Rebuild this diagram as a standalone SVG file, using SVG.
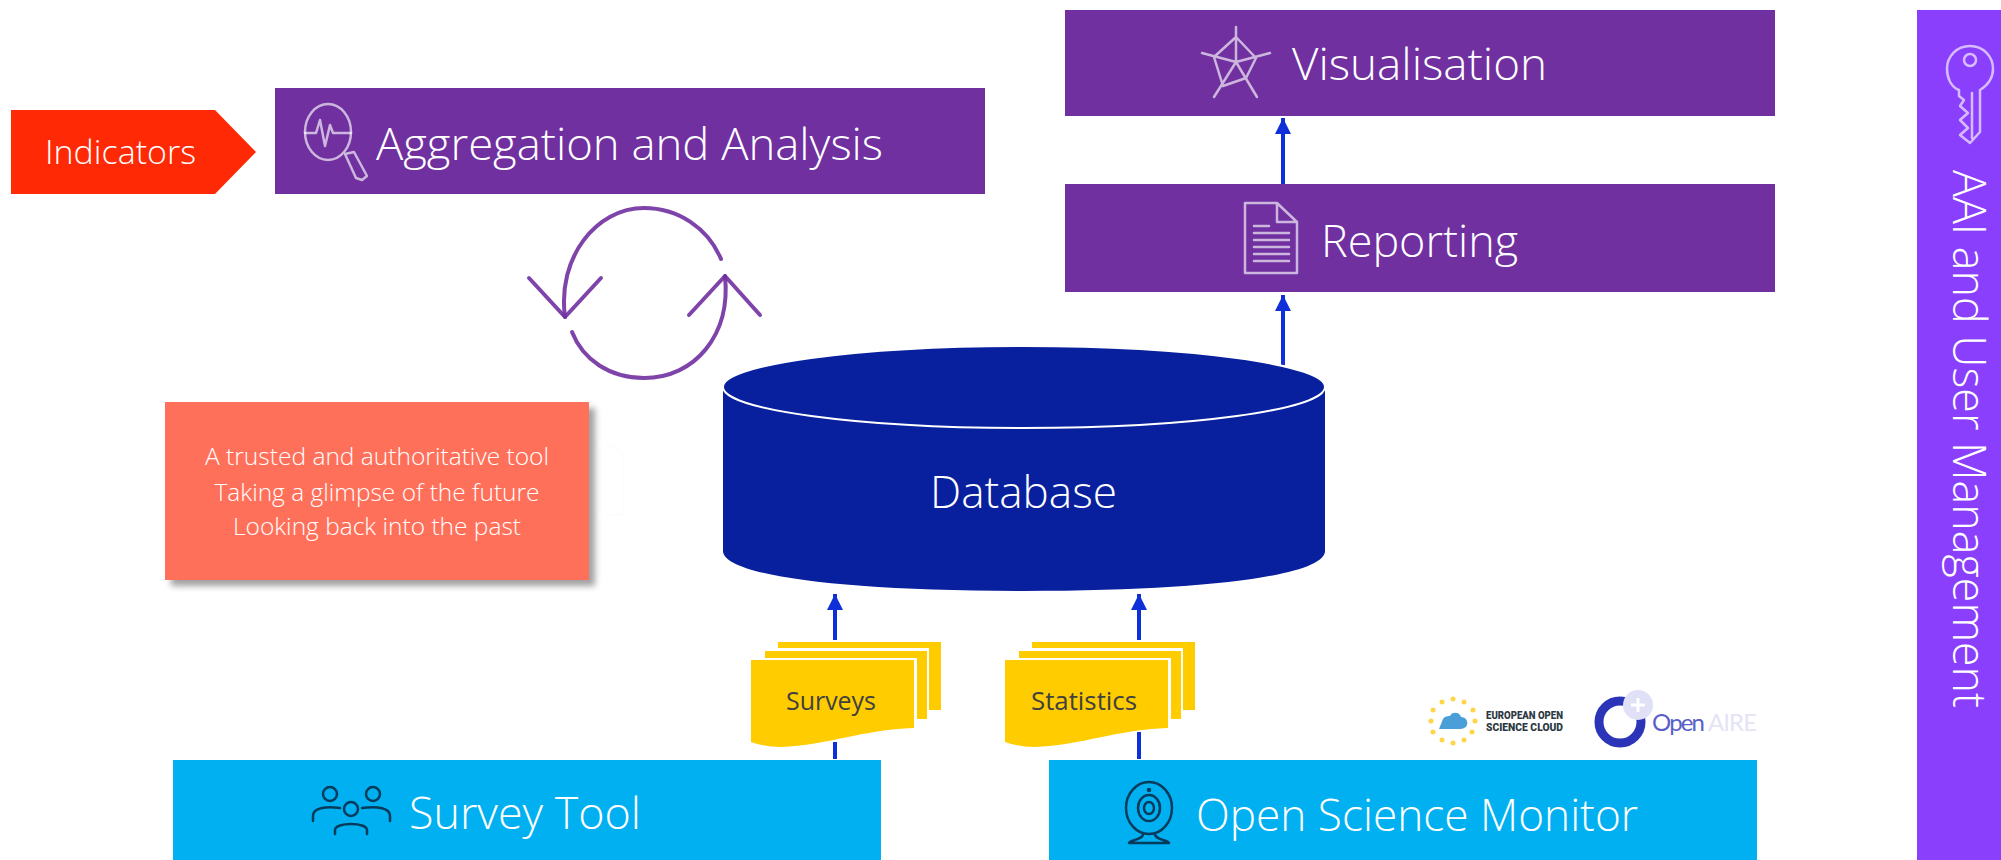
<svg xmlns="http://www.w3.org/2000/svg" width="2001" height="860" viewBox="0 0 2001 860">
<style>
.t{font-family:"Open Sans","Noto Sans","Liberation Sans",sans-serif;font-weight:300;fill:#fff}
.w{font-size:44px}.c{font-size:24px;text-anchor:middle;font-weight:300}
.d{font-family:"Open Sans","Noto Sans",sans-serif;font-size:26px;fill:#404040}
.p{fill:#7030a0}.b{fill:#00b0f0}.y{fill:#ffcc00}
.ic{fill:none;stroke:#fff;stroke-opacity:.65;stroke-width:2.5;stroke-linecap:round;stroke-linejoin:round}
.ik{fill:none;stroke:#073b5c;stroke-width:2.5;stroke-linecap:round;stroke-linejoin:round}
.cy{fill:none;stroke:#7030a0;stroke-width:4;stroke-linecap:round;stroke-linejoin:round;stroke-opacity:.9}
.cn{fill:none;stroke:#0f2fd8;stroke-width:4}
</style>
<defs>
<marker id="ah" markerUnits="userSpaceOnUse" markerWidth="16" markerHeight="17" refX="16" refY="8" orient="auto"><path d="M0 0L16 8L0 16Z" fill="#0f2fd8"/></marker>
<filter id="sh" x="-5%" y="-5%" width="115%" height="120%"><feGaussianBlur stdDeviation="3"/></filter>
</defs>
<rect width="2001" height="860" fill="#fff"/>

<g id="connectors">
<path class="cn" d="M1283 189V118" marker-end="url(#ah)"/>
<path class="cn" d="M1283 365V295" marker-end="url(#ah)"/>
<path class="cn" d="M835 759V742"/>
<path class="cn" d="M835 640V594" marker-end="url(#ah)"/>
<path class="cn" d="M1139 759V732"/>
<path class="cn" d="M1139 640V594" marker-end="url(#ah)"/>
</g>

<g id="indicators">
<path d="M11 110H215L256 152L215 194H11Z" fill="#ff2a05"/>
<text class="t" x="45" y="164" font-size="33" textLength="151" lengthAdjust="spacingAndGlyphs">Indicators</text>
</g>

<g id="aggregation">
<rect class="p" x="275" y="88" width="710" height="106"/>
<ellipse class="ic" cx="328" cy="132" rx="23" ry="28"/>
<path class="ic" d="M305 133H316L320 120L325 146L330 125L333 133H351"/>
<path class="ic" d="M345 154L354 152L367 176L362 180L356 178Z"/>
<text class="t w" x="376" y="160" textLength="507" lengthAdjust="spacingAndGlyphs">Aggregation and Analysis</text>
</g>

<g id="visualisation">
<rect class="p" x="1065" y="10" width="710" height="106"/>
<path class="ic" d="M1236 27V62M1202 53L1236 62L1270 53M1214 97L1236 62L1257 97M1236 37L1256 58L1246 78L1223 86L1214 57Z"/>
<text class="t w" x="1292" y="80" textLength="255" lengthAdjust="spacingAndGlyphs">Visualisation</text>
</g>

<g id="reporting">
<rect class="p" x="1065" y="184" width="710" height="108"/>
<path class="ic" d="M1245 203H1277L1297 222V273H1245ZM1277 203V222H1297"/>
<path class="ic" d="M1254 226H1269M1254 233H1289M1254 240H1289M1254 247H1289M1254 254H1289M1254 261H1289" stroke-width="3"/>
<text class="t w" x="1321" y="257" textLength="197" lengthAdjust="spacingAndGlyphs">Reporting</text>
</g>

<g id="cycle">
<path class="cy" d="M565 317C557 258 596 208 644 208C678 208 708 228 721 259"/>
<path class="cy" d="M529 278L565 317L601 278"/>
<path class="cy" d="M572 332C583 360 610 378 644 378C695 378 731 335 725 276"/>
<path class="cy" d="M689 315L725 276L760 315"/>
</g>

<g id="database">
<path d="M723 388V551C723 574 830 591 1024 591C1218 591 1325 574 1325 551V388Z" fill="#08209e"/>
<ellipse cx="1024" cy="387" rx="301" ry="41" fill="#08209e" stroke="#fff" stroke-width="2"/>
<text class="t" x="930" y="508" font-size="44" textLength="187" lengthAdjust="spacingAndGlyphs">Database</text>
</g>

<g id="callout">
<rect x="171" y="408" width="424" height="178" fill="#555" opacity=".55" filter="url(#sh)"/>
<rect x="165" y="402" width="424" height="178" fill="#ff705a"/>
<text class="t c" x="377" y="465" textLength="344" lengthAdjust="spacingAndGlyphs">A trusted and authoritative tool</text>
<text class="t c" x="377" y="501" textLength="325" lengthAdjust="spacingAndGlyphs">Taking a glimpse of the future</text>
<text class="t c" x="377" y="535" textLength="288" lengthAdjust="spacingAndGlyphs">Looking back into the past</text>
</g>

<g id="surveys">
<path class="y" d="M778 642H941V710H929V648H778Z"/>
<path class="y" d="M765 651H927V719H917V658H765Z"/>
<path class="y" d="M751 660H914V728C860 730 830 745 780 747C770 747 760 745 751 742Z"/>
<text class="d" x="786" y="710" textLength="90" lengthAdjust="spacingAndGlyphs">Surveys</text>
</g>

<g id="statistics">
<path class="y" d="M1032 642H1195V710H1183V648H1032Z"/>
<path class="y" d="M1019 651H1181V719H1171V658H1019Z"/>
<path class="y" d="M1005 660H1168V728C1114 730 1084 745 1034 747C1024 747 1014 745 1005 742Z"/>
<text class="d" x="1031" y="710" textLength="106" lengthAdjust="spacingAndGlyphs">Statistics</text>
</g>

<g id="survey-tool">
<rect class="b" x="173" y="760" width="708" height="100"/>
<g class="ik">
<circle cx="330" cy="794" r="7"/><circle cx="373" cy="794" r="7"/><circle cx="351" cy="809" r="7"/>
<path d="M313 821V816C313 808 325 806 340 808M390 821V816C390 808 378 806 362 808M335 834V830C335 822 367 822 367 830V834"/>
</g>
<text class="t w" x="409" y="829" textLength="232" lengthAdjust="spacingAndGlyphs">Survey Tool</text>
</g>

<g id="open-science-monitor">
<rect class="b" x="1049" y="760" width="708" height="100"/>
<g class="ik">
<ellipse cx="1149" cy="808" rx="23" ry="26"/>
<ellipse cx="1149" cy="808" rx="11" ry="13"/><ellipse cx="1149" cy="808" rx="5" ry="6"/>
<circle cx="1149" cy="790" r="1"/>
<path d="M1143 834C1143 840 1130 840 1129 843V843H1169C1168 840 1155 840 1155 834"/>
</g>
<text class="t w" x="1196" y="831" textLength="442" lengthAdjust="spacingAndGlyphs">Open Science Monitor</text>
</g>

<g id="eosc-logo">
<g fill="#ffd54a">
<circle cx="1453" cy="699" r="2.5"/><circle cx="1464" cy="702" r="2.5"/><circle cx="1473" cy="710" r="2.5"/><circle cx="1475" cy="721" r="2.5"/><circle cx="1472" cy="732" r="2.5"/><circle cx="1464" cy="740" r="2.5"/><circle cx="1453" cy="743" r="2.5"/><circle cx="1442" cy="740" r="2.5"/><circle cx="1433" cy="732" r="2.5"/><circle cx="1431" cy="721" r="2.5"/><circle cx="1433" cy="710" r="2.5"/><circle cx="1442" cy="702" r="2.5"/>
</g>
<path d="M1439 729L1443 719C1445 716 1448 716 1450 716C1452 711 1460 712 1461 717C1466 717 1468 721 1467 725C1466 728 1462 729 1460 729Z" fill="#4a9fd8"/>
<text x="1486" y="719" font-family="Roboto,sans-serif" font-weight="900" font-size="10" fill="#2d3a44" textLength="77" lengthAdjust="spacingAndGlyphs">EUROPEAN OPEN</text>
<text x="1486" y="731" font-family="Roboto,sans-serif" font-weight="900" font-size="10" fill="#2d3a44" textLength="77" lengthAdjust="spacingAndGlyphs">SCIENCE CLOUD</text>
</g>

<g id="openaire-logo">
<circle cx="1620" cy="722" r="21" fill="none" stroke="#2c35b8" stroke-width="9"/>
<circle cx="1638" cy="705" r="15" fill="#e0e0f6"/>
<path d="M1638 698V712M1631 705H1645" stroke="#fff" stroke-width="3"/>
<text x="1652" y="731" font-family="Lato,sans-serif" font-size="24" fill="#5a5fc8" textLength="53">Open</text>
<text x="1708" y="731" font-family="Lato,sans-serif" font-size="24" fill="#e4e4f6" textLength="49">AIRE</text>
</g>

<g id="aai">
<rect x="1917" y="10" width="84" height="850" fill="#8a3ffc"/>
<path class="ic" d="M1959 90C1951 87 1947 78 1947 69C1947 56 1957 46 1970 46C1983 46 1993 56 1993 69C1993 78 1988 85 1980 90V132L1970 143L1960 135L1968 128L1960 120L1968 113L1960 106L1964 100L1959 96Z"/>
<circle class="ic" cx="1970" cy="60" r="6"/>
<path class="ic" d="M1972 93V138"/>
<text class="t" transform="translate(1953 170) rotate(90)" font-size="46" textLength="538" lengthAdjust="spacingAndGlyphs">AAI and User Management</text>
</g>

<path d="M599 445H612L623 456V515H599" fill="none" stroke="#fdfdfd" stroke-width="2"/>
</svg>
